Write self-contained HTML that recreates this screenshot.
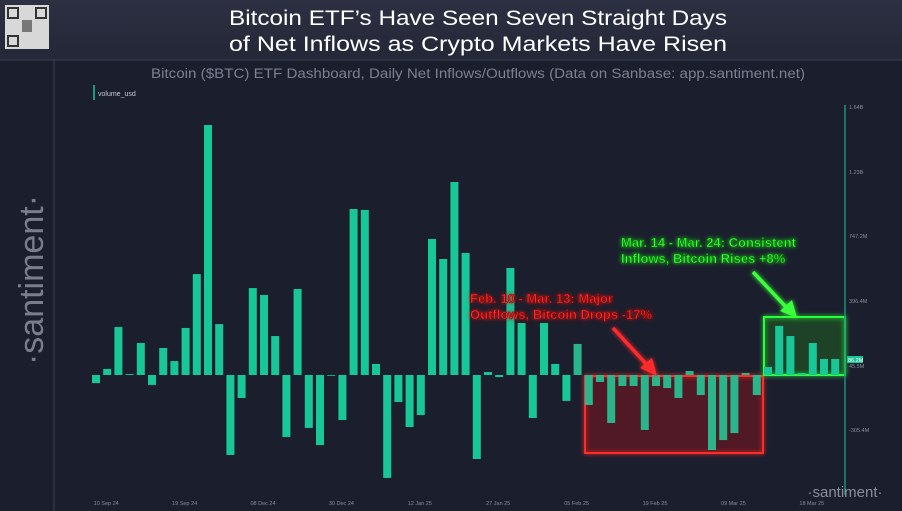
<!DOCTYPE html>
<html><head><meta charset="utf-8">
<style>
html,body{margin:0;padding:0;background:#1a1e2d;}
svg{display:block;font-family:"Liberation Sans",sans-serif;}
</style></head>
<body>
<svg width="902" height="511" viewBox="0 0 902 511">
<defs>
<linearGradient id="hdr" x1="0" y1="0" x2="0" y2="1"><stop offset="0" stop-color="#2c3042"/><stop offset="1" stop-color="#232737"/></linearGradient>
<filter id="glowR"><feGaussianBlur stdDeviation="2.5" result="b"/><feMerge><feMergeNode in="b"/><feMergeNode in="SourceGraphic"/></feMerge></filter>
</defs>
<rect width="902" height="511" fill="#1a1e2d"/>
<rect width="902" height="60" fill="url(#hdr)"/>
<line x1="0" y1="60" x2="902" y2="60" stroke="#3a3e50"/>
<line x1="54" y1="60" x2="54" y2="511" stroke="#3a3e50"/>
<g>
<rect x="5" y="5" width="44" height="44" fill="#d8d8d8"/>
<rect x="8" y="8" width="10" height="10" fill="none" stroke="#333" stroke-width="2"/>
<rect x="36" y="8" width="10" height="10" fill="none" stroke="#333" stroke-width="2"/>
<rect x="8" y="36" width="10" height="10" fill="none" stroke="#333" stroke-width="2"/>
<rect x="22" y="20" width="10" height="12" fill="#777"/>
</g>
<text x="478" y="25" text-anchor="middle" fill="#fff" font-size="21" textLength="498" lengthAdjust="spacingAndGlyphs">Bitcoin ETF’s Have Seen Seven Straight Days</text>
<text x="478" y="51" text-anchor="middle" fill="#fff" font-size="21" textLength="498" lengthAdjust="spacingAndGlyphs">of Net Inflows as Crypto Markets Have Risen</text>
<text x="478" y="78" text-anchor="middle" fill="#7c8090" font-size="13.5" textLength="654" lengthAdjust="spacingAndGlyphs">Bitcoin ($BTC) ETF Dashboard, Daily Net Inflows/Outflows (Data on Sanbase: app.santiment.net)</text>
<text transform="translate(43,280) rotate(-90)" text-anchor="middle" fill="#7a7e8c" font-size="34">·santiment·</text>
<line x1="94" y1="85" x2="94" y2="100" stroke="#17c797" stroke-width="1.5"/>
<text x="98" y="96" fill="#c8cad2" font-size="7">volume_usd</text>
<rect x="585" y="376" width="178" height="77" fill="rgba(120,20,25,0.35)" stroke="#ff2a2a" stroke-width="2" filter="url(#glowR)"/>
<rect x="764" y="317" width="81" height="58" fill="rgba(30,100,30,0.3)" stroke="#2aff3a" stroke-width="2" filter="url(#glowR)"/>
<g id="bars"></g>
<line x1="845" y1="105" x2="845" y2="495" stroke="#1f8f7a" stroke-width="1.5"/>
<g id="yticks"></g>
<rect x="847" y="356" width="16" height="7" fill="#17c797"/>
<text x="848" y="362" fill="#fff" font-size="5.5">86.2M</text>
<g id="xticks"></g>
<g filter="url(#glowR)">
<text x="470" y="303" fill="#ff2a2a" font-size="13" font-weight="bold" stroke="#600" stroke-width="0.5">Feb. 10 - Mar. 13: Major</text>
<text x="470" y="319" fill="#ff2a2a" font-size="13" font-weight="bold" stroke="#600" stroke-width="0.5">Outflows, Bitcoin Drops -17%</text>
<text x="621" y="247" fill="#3aff3a" font-size="13" font-weight="bold" stroke="#060" stroke-width="0.5">Mar. 14 - Mar. 24: Consistent</text>
<text x="621" y="263" fill="#3aff3a" font-size="13" font-weight="bold" stroke="#060" stroke-width="0.5">Inflows, Bitcoin Rises +8%</text>
<line x1="613" y1="328" x2="648" y2="366" stroke="#ff2a2a" stroke-width="3.5"/>
<polygon points="657,376 640,368 652,358" fill="#ff2a2a"/>
<line x1="753" y1="272" x2="787" y2="308" stroke="#3aff3a" stroke-width="3.5"/>
<polygon points="797,318 780,311 792,300" fill="#3aff3a"/>
</g>
<text x="845" y="497" text-anchor="middle" fill="#8a8e9c" font-size="15">·santiment·</text>
</svg>
<script>
const values = [-44,33,261,5,174,-54,147,76,256,549,1360,277,-435,-125,473,435,212,-337,468,-288,-381,0,-245,903,898,60,-560,-147,-283,-218,740,631,1050,664,-457,16,-11,582,283,-234,283,60,-141,169,-163,-38,-261,-60,-60,-299,-60,-71,-125,22,-109,-408,-354,-316,11,-109,44,267,212,11,174,87,87];
const yTickValues = [1458,1104,756,403,49,-299];
const yTickLabels = ["1.64B","1.23B","747.2M","396.4M","45.5M","-305.4M"];
const xTickIndex = [1,8,15,22,29,36,43,50,57,64];
const xTickLabels = ["10 Sep 24","19 Sep 24","08 Dec 24","30 Dec 24","12 Jan 25","27 Jan 25","05 Feb 25","19 Feb 25","09 Mar 25","18 Mar 25"];
const NS="http://www.w3.org/2000/svg";
const zeroY=375, pxPerM=1/5.44;
function yScale(v){return zeroY - v*pxPerM;}
function xScale(i){return 96 + i*11.2;}
const bars=document.getElementById('bars');
values.forEach((v,i)=>{
  const r=document.createElementNS(NS,'rect');
  const y0=yScale(Math.max(v,0)), y1=yScale(Math.min(v,0));
  r.setAttribute('x',xScale(i)-4);
  r.setAttribute('width',8);
  r.setAttribute('y',y0);
  r.setAttribute('height',Math.max(y1-y0,0.8));
  r.setAttribute('fill',(i>=43&&i<=59)?'#2bb58a':'#17c797');
  
  
  bars.appendChild(r);
});
const yt=document.getElementById('yticks');
yTickValues.forEach((v,i)=>{
  const t=document.createElementNS(NS,'text');
  t.setAttribute('x',849);t.setAttribute('y',yScale(v)+2);
  t.setAttribute('fill','#8a8e9c');t.setAttribute('font-size','5.5');
  t.textContent=yTickLabels[i];
  
  
  yt.appendChild(t);
});
const xt=document.getElementById('xticks');
xTickIndex.forEach((idx,i)=>{
  const t=document.createElementNS(NS,'text');
  t.setAttribute('x',xScale(idx)-1);t.setAttribute('y',505);
  t.setAttribute('text-anchor','middle');
  t.setAttribute('fill','#8a8e9c');t.setAttribute('font-size','5.5');
  t.textContent=xTickLabels[i];
  
  
  xt.appendChild(t);
});
</script>
</body></html>
